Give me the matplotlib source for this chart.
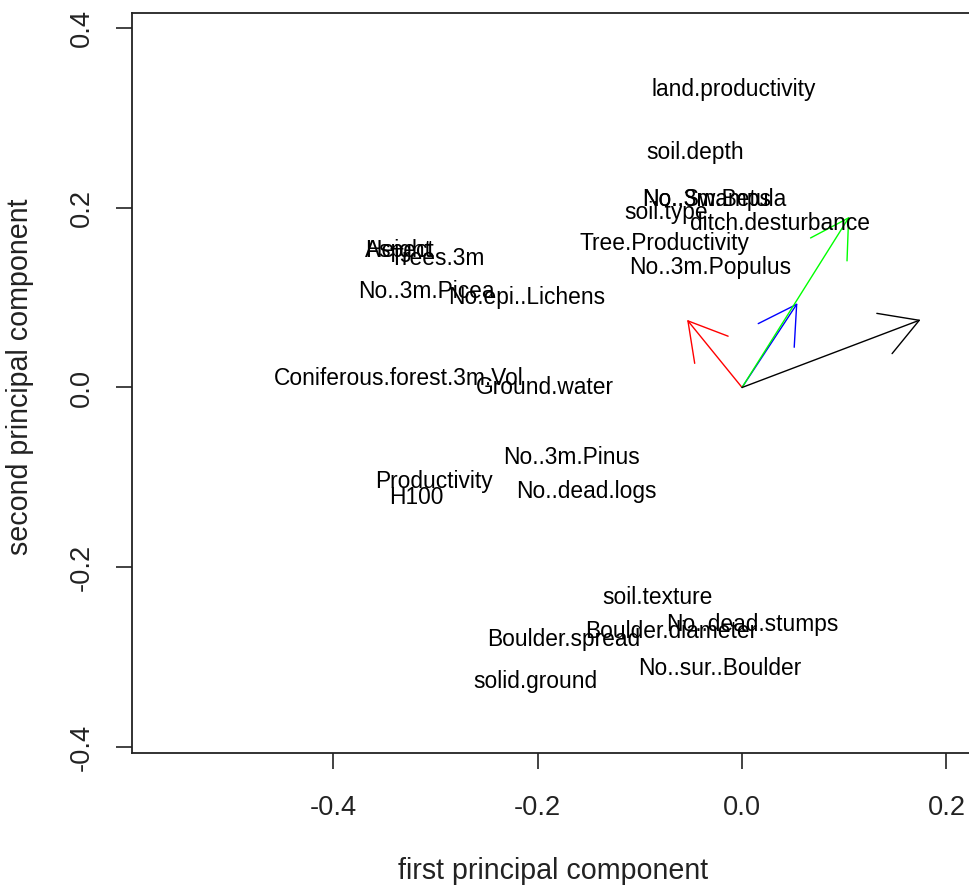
import matplotlib
matplotlib.use("Agg")
import matplotlib.pyplot as plt
from matplotlib.patches import FancyArrowPatch

plt.rcParams['font.family'] = ['Liberation Sans', 'DejaVu Sans']

# variable labels and their positions (first / second principal component)
labels = ['land.productivity', 'soil.depth', 'No..Swamps', 'No..3m.Betula',
          'soil.type', 'ditch.desturbance', 'Tree.Productivity', 'No..3m.Populus',
          'Aspect', 'Height', 'Trees.3m', 'No..3m.Picea', 'No.epi..Lichens',
          'Coniferous.forest.3m.Vol', 'Ground.water', 'No..3m.Pinus',
          'Productivity', 'H100', 'No..dead.logs', 'soil.texture',
          'No..dead.stumps', 'Boulder.diameter', 'Boulder.spread',
          'No..sur..Boulder', 'solid.ground']
pc1 = [-0.0085, -0.046, -0.035, -0.027,
       -0.0746, 0.0375, -0.0756, -0.0315,
       -0.3345, -0.3364, -0.2982, -0.3085, -0.211,
       -0.3364, -0.1925, -0.167,
       -0.3017, -0.319, -0.152, -0.0829,
       0.0096, -0.0697, -0.175,
       -0.0222, -0.2024]
pc2 = [0.332, 0.261, 0.2086, 0.2086,
       0.195, 0.182, 0.160, 0.133,
       0.152, 0.152, 0.144, 0.1065, 0.0998,
       0.0097, 0.0, -0.078,
       -0.105, -0.1227, -0.116, -0.234,
       -0.264, -0.272, -0.280,
       -0.313, -0.327]

# arrows from the origin
arrow_x = [-0.0538, 0.0542, 0.105, 0.1747]
arrow_y = [0.0753, 0.0938, 0.190, 0.0753]
arrow_col = ['red', 'blue', '#00ff00', 'black']

fig = plt.figure(figsize=(9.69, 8.88), dpi=100)
ax = fig.add_axes([132/969, 135/888, 842/969, 740.3/888])
ax.set_xlim(-0.597, 0.227)
ax.set_ylim(-0.4067, 0.417)

for lab, x, y in zip(labels, pc1, pc2):
    ax.text(x, y, lab, ha='center', va='center', fontsize=16.4, color='black')

for x, y, c in zip(arrow_x, arrow_y, arrow_col):
    a = FancyArrowPatch((0, 0), (x, y), arrowstyle='->,head_length=26.8,head_width=15.5',
                        color=c, lw=1.0, shrinkA=0, shrinkB=0, mutation_scale=1)
    ax.add_patch(a)

ax.set_xticks([-0.4, -0.2, 0.0, 0.2])
ax.set_yticks([-0.4, -0.2, 0.0, 0.2, 0.4])
ax.set_xticklabels(['-0.4', '-0.2', '0.0', '0.2'])
ax.set_yticklabels(['-0.4', '-0.2', '0.0', '0.2', '0.4'], rotation=90, va='center')
ax.tick_params(length=11.5, width=1.2, labelsize=19.6, colors='#222222')
ax.tick_params(axis='x', pad=18.5)
ax.tick_params(axis='y', pad=15)
for s in ax.spines.values():
    s.set_linewidth(1.3)
    s.set_color('#222222')

ax.set_xlabel('first principal component', fontsize=20.6, color='#222222')
ax.set_ylabel('second principal component', fontsize=20.6, color='#222222')
ax.xaxis.set_label_coords((553 - 132) / 842, -(857 - 753) / 740.3)
ax.yaxis.set_label_coords(-(132 - 34) / 842, (753 - 377) / 740.3)

fig.savefig('out.png', dpi=100)
